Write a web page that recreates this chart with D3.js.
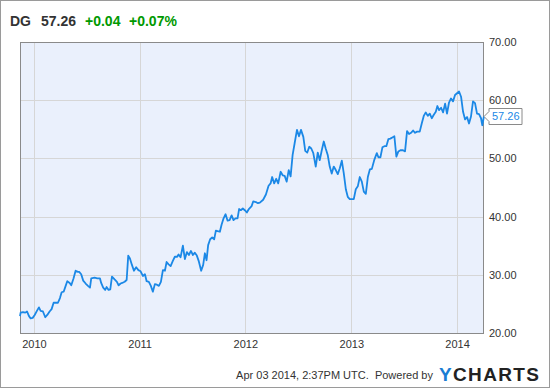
<!DOCTYPE html>
<html>
<head>
<meta charset="utf-8">
<script src="https://cdn.jsdelivr.net/npm/d3@7"></script>
<style>
  body { margin: 0; background: #fff; font-family: "Liberation Sans", Arial, sans-serif; }
</style>
</head>
<body>
<div id="my_dataviz"></div>
<script>
// DG weekly close, dates as decimal years
var years = [2009.868, 2009.874, 2009.896, 2009.918, 2009.934, 2009.953, 2009.969, 2009.988,
  2010.007, 2010.028, 2010.047, 2010.063, 2010.085, 2010.107, 2010.126, 2010.148, 2010.167, 2010.186,
  2010.213, 2010.227, 2010.246, 2010.262, 2010.281, 2010.300, 2010.315, 2010.338, 2010.353, 2010.375,
  2010.394, 2010.416, 2010.428, 2010.447, 2010.466, 2010.489, 2010.511, 2010.530, 2010.542, 2010.574,
  2010.599, 2010.624, 2010.636, 2010.655, 2010.674, 2010.687, 2010.706, 2010.722, 2010.738, 2010.763,
  2010.785, 2010.801, 2010.820, 2010.835, 2010.858, 2010.877, 2010.892, 2010.908, 2010.927, 2010.946,
  2010.967, 2010.988, 2011.009, 2011.031, 2011.050, 2011.066, 2011.087, 2011.106, 2011.125, 2011.144,
  2011.163, 2011.182, 2011.201, 2011.220, 2011.239, 2011.255, 2011.274, 2011.293, 2011.314, 2011.333,
  2011.355, 2011.368, 2011.387, 2011.409, 2011.428, 2011.447, 2011.466, 2011.485, 2011.504, 2011.522,
  2011.541, 2011.560, 2011.582, 2011.601, 2011.617, 2011.633, 2011.648, 2011.667, 2011.686, 2011.705,
  2011.721, 2011.737, 2011.759, 2011.775, 2011.794, 2011.813, 2011.832, 2011.851, 2011.870, 2011.888,
  2011.907, 2011.926, 2011.941, 2011.957, 2011.976, 2011.995, 2012.014, 2012.033, 2012.059, 2012.074,
  2012.099, 2012.118, 2012.137, 2012.168, 2012.194, 2012.219, 2012.238, 2012.253, 2012.272, 2012.291,
  2012.310, 2012.333, 2012.352, 2012.371, 2012.390, 2012.409, 2012.427, 2012.446, 2012.465, 2012.487,
  2012.506, 2012.525, 2012.547, 2012.565, 2012.584, 2012.603, 2012.622, 2012.641, 2012.664, 2012.683,
  2012.702, 2012.721, 2012.740, 2012.758, 2012.777, 2012.796, 2012.815, 2012.834, 2012.853, 2012.872,
  2012.891, 2012.910, 2012.929, 2012.948, 2012.966, 2012.985, 2013.004, 2013.023, 2013.042, 2013.061,
  2013.080, 2013.099, 2013.118, 2013.137, 2013.156, 2013.175, 2013.194, 2013.218, 2013.241, 2013.256,
  2013.275, 2013.294, 2013.313, 2013.331, 2013.350, 2013.369, 2013.388, 2013.407, 2013.426, 2013.445,
  2013.464, 2013.489, 2013.508, 2013.527, 2013.546, 2013.565, 2013.584, 2013.603, 2013.622, 2013.647,
  2013.666, 2013.685, 2013.704, 2013.723, 2013.742, 2013.761, 2013.780, 2013.799, 2013.814, 2013.830,
  2013.849, 2013.868, 2013.887, 2013.905, 2013.924, 2013.943, 2013.962, 2013.981, 2014.000, 2014.019,
  2014.038, 2014.057, 2014.076, 2014.095, 2014.113, 2014.132, 2014.151, 2014.170, 2014.189, 2014.208,
  2014.227, 2014.239, 2014.255];

var prices = [22.9, 23.5, 23.6, 23.5, 23.7, 22.9, 22.5, 22.6,
  23.1, 23.8, 24.4, 23.8, 23.7, 22.7, 23.1, 23.7, 24.1, 25.2,
  25.2, 25.2, 26.0, 27.0, 27.1, 28.1, 28.9, 28.6, 28.2, 29.4,
  30.7, 30.5, 30.5, 30.1, 29.0, 28.5, 28.1, 27.8, 29.4, 29.5,
  29.4, 29.4, 28.6, 27.8, 27.4, 27.9, 27.4, 27.5, 29.7, 29.2,
  28.8, 28.2, 28.5, 28.6, 28.8, 29.1, 33.3, 32.8, 31.7, 30.7,
  31.3, 30.8, 30.6, 29.8, 30.1, 28.9, 28.8, 28.1, 27.1, 28.4,
  28.3, 28.1, 28.8, 30.8, 30.7, 32.2, 31.8, 31.5, 32.4, 33.1,
  33.1, 33.5, 33.0, 35.0, 32.7, 33.9, 33.4, 34.1, 33.4, 33.8,
  33.3, 32.3, 30.7, 31.7, 33.7, 32.5, 35.1, 36.1, 36.4, 36.1,
  37.6, 37.5, 37.4, 38.6, 39.7, 40.4, 39.3, 39.4, 40.2, 39.4,
  39.7, 39.7, 41.3, 41.1, 41.4, 41.1, 40.7, 41.3, 41.8, 42.6,
  42.5, 42.3, 42.4, 42.9, 43.8, 45.3, 45.7, 46.8, 45.7, 46.5,
  45.7, 47.7, 47.1, 47.0, 46.0, 48.0, 46.9, 50.6, 52.6, 54.9,
  53.8, 54.9, 53.7, 51.3, 51.0, 52.0, 51.7, 50.9, 48.6, 51.0,
  49.7, 51.4, 52.9, 51.7, 50.6, 48.6, 47.4, 48.6, 48.0, 47.3,
  48.3, 49.6, 47.4, 44.7, 43.4, 43.0, 43.0, 43.0, 44.7, 45.2,
  46.8, 46.0, 44.3, 43.9, 46.8, 48.1, 48.2, 49.8, 50.9, 50.2,
  50.2, 51.9, 52.1, 52.1, 53.3, 53.4, 53.6, 53.8, 50.3, 51.2,
  51.4, 51.4, 51.2, 54.7, 54.2, 54.4, 54.8, 54.4, 54.6, 54.6,
  56.0, 57.3, 57.9, 57.3, 57.7, 56.9, 57.5, 58.0, 59.0, 58.3,
  58.7, 57.9, 59.4, 57.7, 59.6, 60.3, 59.8, 60.9, 61.2, 61.5,
  60.6, 58.0, 56.7, 57.1, 56.0, 57.2, 59.8, 59.5, 57.7, 57.6,
  56.9, 55.7, 57.26];

var yTicks = [20, 30, 40, 50, 60, 70];
var xStart = 2009.868, xEnd = 2014.255;
var ticker = "DG", lastPrice = "57.26", change = "+0.04", changePct = "+0.07%";
var footer = "Apr 03 2014, 2:37PM UTC.  Powered by";

function toDate(y) {
  var yr = Math.floor(y);
  var t0 = Date.UTC(yr, 0, 1), t1 = Date.UTC(yr + 1, 0, 1);
  return new Date(t0 + (y - yr) * (t1 - t0));
}

var data = years.map(function (y, i) { return { date: toDate(y), value: prices[i] }; });

var W = 550, H = 388;
var margin = { top: 42, right: 66, bottom: 55, left: 20 },
  width = W - margin.left - margin.right,
  height = H - margin.top - margin.bottom;

var svg = d3.select("#my_dataviz")
  .append("svg")
  .attr("width", W)
  .attr("height", H)
  .style("font-family", "'Liberation Sans', Arial, sans-serif");

// outer frame
svg.append("rect")
  .attr("x", 0.5).attr("y", 0.5)
  .attr("width", W - 1).attr("height", H - 1)
  .style("fill", "#fff").style("stroke", "#9a9a9a");

var g = svg.append("g")
  .attr("transform", "translate(" + margin.left + "," + margin.top + ")");

var x = d3.scaleUtc()
  .domain([toDate(xStart), toDate(xEnd)])
  .range([0, width]);

var y = d3.scaleLinear()
  .domain([20, 70])
  .range([height, 0]);

// plot background
g.append("rect")
  .attr("width", width).attr("height", height)
  .style("fill", "#eaf0fc");

// gridlines
var yearTicks = x.ticks(d3.utcYear.every(1));
g.append("g")
  .selectAll("line")
  .data(yearTicks)
  .enter()
  .append("line")
  .attr("x1", function (d) { return Math.round(x(d)) + 0.5; })
  .attr("x2", function (d) { return Math.round(x(d)) + 0.5; })
  .attr("y1", 0).attr("y2", height)
  .style("stroke", "#d6d6d6");

g.append("g")
  .selectAll("line")
  .data(yTicks.slice(1, -1))
  .enter()
  .append("line")
  .attr("x1", 0).attr("x2", width)
  .attr("y1", function (d) { return Math.round(y(d)) + 0.5; })
  .attr("y2", function (d) { return Math.round(y(d)) + 0.5; })
  .style("stroke", "#d6d6d6");

// plot frame
g.append("rect")
  .attr("x", 0.5).attr("y", 0.5)
  .attr("width", width - 1).attr("height", height)
  .style("fill", "none").style("stroke", "#8a8a8a");

// price line
g.append("path")
  .datum(data)
  .attr("d", d3.line()
    .x(function (d) { return x(d.date); })
    .y(function (d) { return y(d.value); }))
  .style("fill", "none")
  .style("stroke", "#1b88e6")
  .style("stroke-width", 1.8)
  .style("stroke-linejoin", "round");

// x axis labels
var xAxis = g.append("g")
  .attr("transform", "translate(0," + height + ")")
  .call(d3.axisBottom(x).tickValues(yearTicks).tickFormat(d3.utcFormat("%Y")).tickSize(0).tickPadding(7));
xAxis.select(".domain").remove();
xAxis.selectAll("text").style("font-size", "11px").style("fill", "#333")
  .style("font-family", "'Liberation Sans', Arial, sans-serif");

// y axis labels
var yAxis = g.append("g")
  .attr("transform", "translate(" + width + ",0)")
  .call(d3.axisRight(y).tickValues(yTicks).tickFormat(d3.format(".2f")).tickSize(0).tickPadding(5));
yAxis.select(".domain").remove();
yAxis.selectAll("text").style("font-size", "11px").style("fill", "#333")
  .style("font-family", "'Liberation Sans', Arial, sans-serif");

// last price flag
var last = data[data.length - 1];
var ly = Math.round(y(last.value)) + 0.5;
var lx = width;
g.append("path")
  .attr("d", "M" + lx + "," + ly + " L" + (lx + 5) + "," + (ly - 5) + " V" + (ly - 8) +
    " H" + (lx + 38) + " V" + (ly + 8) + " H" + (lx + 5) + " V" + (ly + 5) + " Z")
  .style("fill", "#fff").style("stroke", "#8a8a8a");
g.append("text")
  .attr("x", lx + 8).attr("y", ly)
  .attr("dy", "0.35em")
  .text(lastPrice)
  .style("font-size", "11px")
  .style("fill", "#1b88e6");

// header
var head = svg.append("text")
  .attr("x", 10).attr("y", 26)
  .style("font-size", "14px")
  .style("font-weight", "bold");
head.append("tspan").text(ticker).style("fill", "#333");
head.append("tspan").attr("x", 41).text(lastPrice).style("fill", "#333");
head.append("tspan").attr("x", 85).text(change).style("fill", "#009900");
head.append("tspan").attr("x", 129).text(changePct).style("fill", "#009900");

// footer
svg.append("text")
  .attr("x", 433).attr("y", 379)
  .attr("text-anchor", "end")
  .text(footer)
  .style("font-size", "11px")
  .style("fill", "#333")
  .style("white-space", "pre");

var logo = svg.append("text")
  .attr("x", 439).attr("y", 381)
  .attr("textLength", 100)
  .attr("lengthAdjust", "spacing")
  .style("font-size", "19px")
  .style("font-weight", "bold");
logo.append("tspan").text("Y").style("fill", "#1a7dd4");
logo.append("tspan").text("CHARTS").style("fill", "#222");
</script>
</body>
</html>
